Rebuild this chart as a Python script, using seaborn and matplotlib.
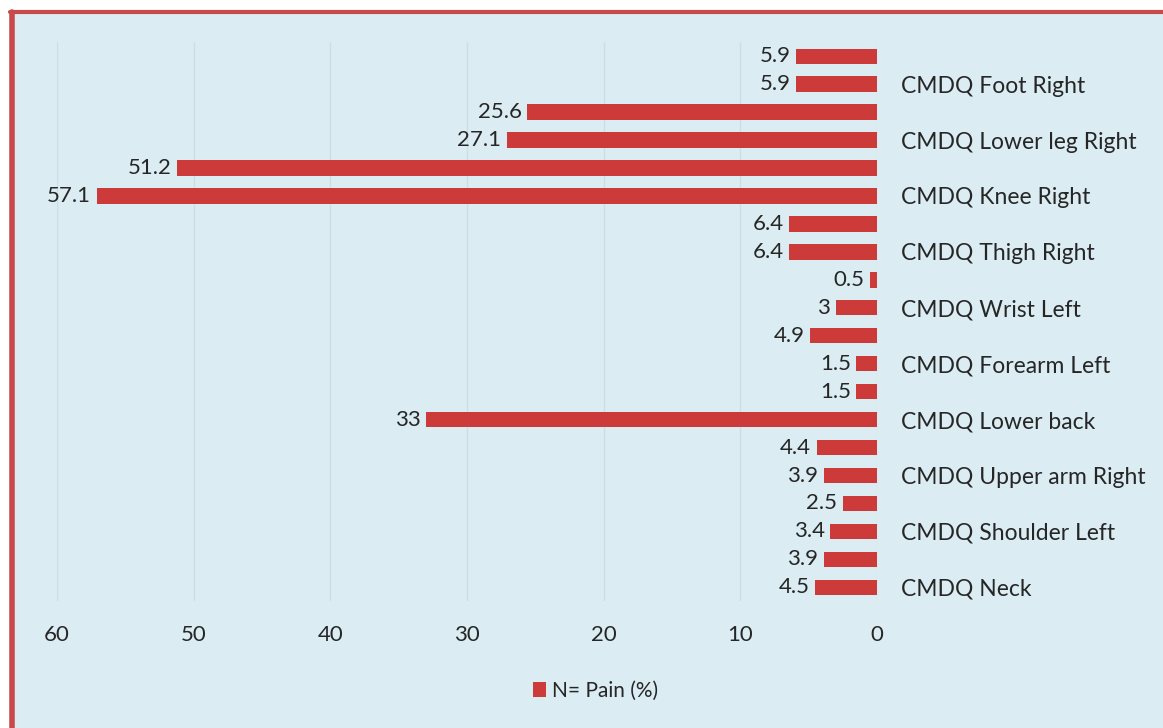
import matplotlib
matplotlib.use("Agg")
import matplotlib.pyplot as plt
from matplotlib.lines import Line2D
from matplotlib.patches import Patch
import seaborn as sns
import pandas as pd

# Categories top to bottom (only every second label is displayed in the chart)
categories = [
    "CMDQ Foot Left", "CMDQ Foot Right",
    "CMDQ Lower leg Left", "CMDQ Lower leg Right",
    "CMDQ Knee Left", "CMDQ Knee Right",
    "CMDQ Thigh Left", "CMDQ Thigh Right",
    "CMDQ Wrist Right", "CMDQ Wrist Left",
    "CMDQ Forearm Right", "CMDQ Forearm Left",
    "CMDQ Upper back", "CMDQ Lower back",
    "CMDQ Upper arm Left", "CMDQ Upper arm Right",
    "CMDQ Shoulder Right", "CMDQ Shoulder Left",
    "CMDQ Neck Left", "CMDQ Neck",
]
values = [5.9, 5.9, 25.6, 27.1, 51.2, 57.1, 6.4, 6.4, 0.5, 3,
          4.9, 1.5, 1.5, 33, 4.4, 3.9, 2.5, 3.4, 3.9, 4.5]
shown_labels = [c if i % 2 == 1 else "" for i, c in enumerate(categories)]
x_ticks = [60, 50, 40, 30, 20, 10, 0]
series_name = "N= Pain (%)"

bg = "#DBEDF3"
bar_color = "#CD3A3A"
text_color = "#262626"

df = pd.DataFrame({"category": categories, "value": values})

sns.set_style("white")
plt.rcParams["font.family"] = ["Lato", "DejaVu Sans"]

fig = plt.figure(figsize=(11.63, 7.28), dpi=100)
fig.patch.set_facecolor(bg)
ax = fig.add_axes([0.049, 0.174, 0.705, 0.768])
ax.set_facecolor(bg)

sns.barplot(data=df, x="value", y="category", orient="h", color=bar_color,
            width=0.55, saturation=1, linewidth=0, ax=ax)

ax.set_xlim(60, 0)
ax.set_xticks(x_ticks)
ax.set_xticklabels([str(t) for t in x_ticks], fontsize=16, color=text_color)
ax.tick_params(axis="x", length=0, pad=17)
ax.grid(axis="x", color="#CCDFE6", linewidth=1)
ax.set_axisbelow(True)

ax.yaxis.tick_right()
ax.set_yticks(range(len(categories)))
ax.set_yticklabels(shown_labels, fontsize=16.5, color=text_color)
ax.tick_params(axis="y", length=0, pad=17)
ax.set_xlabel("")
ax.set_ylabel("")
for s in ax.spines.values():
    s.set_visible(False)

for i, v in enumerate(values):
    ax.annotate(f"{v:g}", xy=(v, i), xytext=(-4, 0), textcoords="offset points",
                ha="right", va="center", fontsize=16, color=text_color)

handle = Patch(facecolor=bar_color, edgecolor="none")
fig.legend([handle], [series_name], loc="center", bbox_to_anchor=(0.512, 0.051),
           frameon=False, fontsize=15, handlelength=0.6, handleheight=0.7,
           handletextpad=0.3, labelcolor=text_color)

# red border on left and top
fig.add_artist(Line2D([12 / 1163, 12 / 1163], [0, 1 - 12 / 728], color="#C94A4A",
                      linewidth=4, transform=fig.transFigure))
fig.add_artist(Line2D([10 / 1163, 1], [1 - 12 / 728, 1 - 12 / 728], color="#C94A4A",
                      linewidth=3, transform=fig.transFigure))
fig.patches.append(plt.Rectangle((0, 1 - 10 / 728), 1, 10 / 728, color="white",
                                 transform=fig.transFigure, zorder=-1))
fig.patches.append(plt.Rectangle((0, 0), 10 / 1163, 1, color="white",
                                 transform=fig.transFigure, zorder=-1))

fig.savefig("out.png", dpi=100, facecolor=bg)
